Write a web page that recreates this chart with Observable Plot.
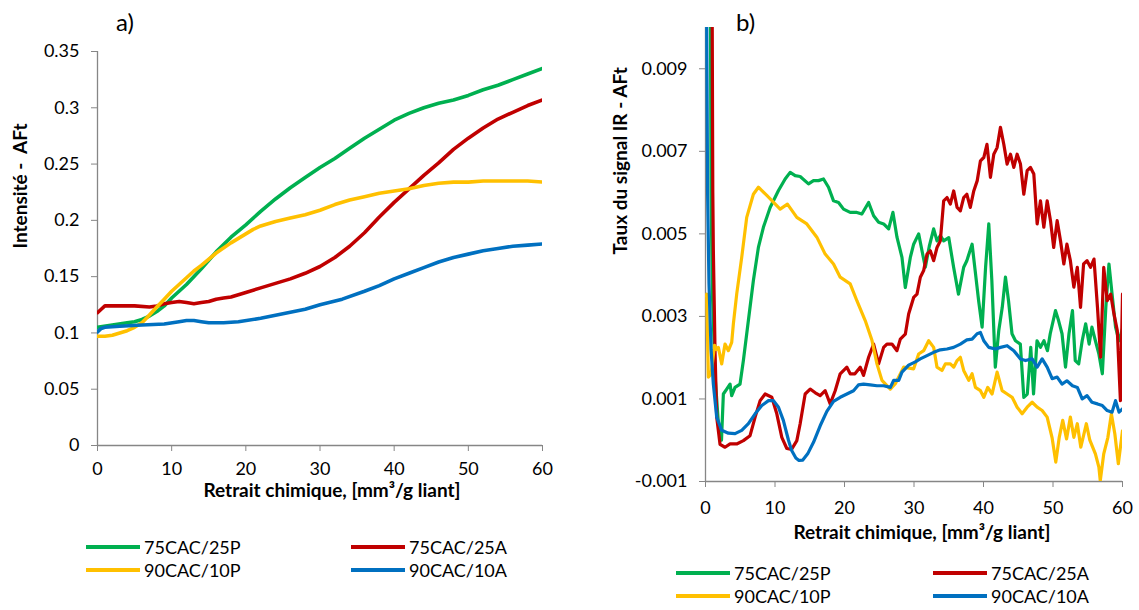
<!DOCTYPE html>
<html>
<head>
<meta charset="utf-8">
<script src="https://cdn.jsdelivr.net/npm/d3@7"></script>
<script src="https://cdn.jsdelivr.net/npm/@observablehq/plot@0.6"></script>
<style>
  html, body { margin: 0; padding: 0; background: #fff; }
  #root { position: relative; width: 1139px; height: 610px; overflow: hidden; font-family: Lato, "Noto Sans", sans-serif; color: #000; }
  .abs { position: absolute; }
  .panel-title { font-size: 24px; line-height: 24px; }
  .leg-line { position: absolute; height: 4px; }
  .leg-text { position: absolute; font-size: 18px; line-height: 20px; white-space: nowrap; }
</style>
</head>
<body>
<div id="root"></div>
<script>
// ---------- data ----------
const seriesNames = ["75CAC/25P", "75CAC/25A", "90CAC/10P", "90CAC/10A"];
const seriesColors = ["#00B050", "#C00000", "#FFC000", "#0070C0"];

const xTicks = [0, 10, 20, 30, 40, 50, 60];
const yTicksA = [0, 0.05, 0.1, 0.15, 0.2, 0.25, 0.3, 0.35];
const yTicksB = [-0.001, 0.001, 0.003, 0.005, 0.007, 0.009];

const titleA = "a)";
const titleB = "b)";
const xTitle = "Retrait chimique, [mm³/g liant]";
const yTitleA = "Intensité -  AFt";
const yTitleB = "Taux du signal IR - AFt";

// Panel a: intensity
const a_75P = [[0,0.105],[2,0.107],[4,0.109],[5,0.110],[6,0.112],[7,0.115],[8,0.119],[9,0.124],[10,0.131],[11,0.137],[12,0.143],[14,0.157],[16,0.172],[18,0.185],[20,0.196],[22,0.208],[24,0.219],[26,0.229],[28,0.238],[30,0.247],[32,0.255],[34,0.264],[36,0.273],[38,0.281],[40,0.289],[42,0.295],[44,0.300],[46,0.304],[48,0.307],[50,0.311],[52,0.316],[54,0.320],[56,0.325],[58,0.330],[60,0.335]];
const a_75A = [[0,0.118],[0.5,0.121],[1,0.124],[3,0.124],[5,0.124],[7,0.123],[8,0.124],[9,0.126],[10,0.127],[11,0.128],[12,0.127],[13,0.126],[14,0.127],[15,0.128],[16,0.130],[17,0.131],[18,0.132],[20,0.136],[22,0.140],[24,0.144],[26,0.148],[28,0.153],[30,0.159],[32,0.167],[34,0.177],[36,0.189],[38,0.203],[40,0.216],[42,0.228],[44,0.240],[46,0.251],[48,0.263],[50,0.273],[52,0.282],[54,0.290],[56,0.296],[58,0.302],[60,0.307]];
const a_90P = [[0,0.097],[1,0.097],[2,0.098],[3,0.100],[4,0.102],[5,0.105],[6,0.109],[7,0.116],[8,0.123],[9,0.130],[10,0.137],[11,0.143],[12,0.149],[13,0.155],[14,0.160],[16,0.171],[18,0.180],[20,0.188],[21,0.192],[22,0.195],[24,0.199],[26,0.202],[28,0.205],[30,0.209],[32,0.214],[34,0.218],[36,0.221],[38,0.224],[40,0.226],[42,0.228],[44,0.231],[46,0.233],[48,0.234],[50,0.234],[52,0.235],[54,0.235],[56,0.235],[58,0.235],[60,0.234]];
const a_90A = [[0,0.101],[0.5,0.104],[1,0.105],[3,0.106],[6,0.107],[9,0.108],[11,0.110],[12,0.111],[13,0.111],[14,0.110],[15,0.109],[17,0.109],[19,0.110],[22,0.113],[25,0.117],[28,0.121],[30,0.125],[33,0.130],[36,0.137],[38,0.142],[40,0.148],[42,0.153],[44,0.158],[46,0.163],[48,0.167],[50,0.170],[52,0.173],[54,0.175],[56,0.177],[58,0.178],[60,0.179]];

// Panel b: IR signal rate
const b_75P = [[0.7,0.011],[0.8,0.006],[1.0,0.0035],[1.4,0.0015],[1.9,0.0003],[2.3,0.0],[2.57,0.00112],[3.05,0.00124],[3.53,0.00136],[3.77,0.00108],[4.25,0.00128],[4.97,0.00136],[5.45,0.00193],[6.17,0.0029],[6.89,0.00387],[7.61,0.00467],[8.33,0.00516],[9.3,0.00564],[10.5,0.00605],[11.46,0.00633],[12.18,0.00649],[12.9,0.00641],[13.62,0.00639],[14.82,0.00621],[15.54,0.00629],[16.26,0.00629],[16.98,0.00633],[17.7,0.00613],[18.42,0.0058],[19.14,0.00576],[19.86,0.0056],[20.82,0.00552],[21.78,0.00552],[22.5,0.00548],[23.47,0.00576],[24.19,0.00544],[24.91,0.00528],[25.63,0.00524],[26.35,0.00512],[26.97,0.00552],[27.55,0.00492],[28.27,0.00443],[28.75,0.0037],[29.47,0.00443],[29.95,0.00475],[30.67,0.005],[31.15,0.00459],[31.63,0.00419],[32.2,0.0047],[32.83,0.00512],[33.31,0.00483],[33.79,0.00496],[34.27,0.00483],[35.0,0.00491],[35.7,0.00419],[36.4,0.00354],[37.15,0.00419],[37.6,0.00435],[38.36,0.00475],[38.8,0.00411],[39.3,0.00338],[39.8,0.00274],[40.3,0.00419],[40.76,0.00524],[41.2,0.00387],[41.7,0.00177],[42.2,0.00266],[42.7,0.00322],[43.16,0.00395],[43.6,0.00338],[44.1,0.00258],[44.6,0.00241],[45.3,0.00233],[45.8,0.00104],[46.3,0.00112],[46.8,0.00225],[47.2,0.00112],[47.7,0.00241],[48.2,0.00225],[48.7,0.00241],[49.2,0.00217],[49.6,0.00258],[50.36,0.00314],[50.8,0.0029],[51.3,0.00258],[51.8,0.00177],[52.3,0.00258],[52.8,0.00314],[53.2,0.00193],[53.7,0.00185],[54.2,0.00241],[54.7,0.00282],[55.2,0.00233],[55.6,0.00274],[56.1,0.00241],[56.6,0.00209],[57.1,0.00161],[57.6,0.00322],[58.05,0.00427],[58.5,0.00354],[59.0,0.00274],[59.5,0.00241],[60,0.0027]];
const b_75A = [[0.95,0.011],[1.05,0.006],[1.13,0.0046],[1.37,0.00217],[1.61,0.00056],[2.09,-0.0001],[2.81,-0.00017],[3.53,-0.00009],[4.49,-0.00009],[5.45,-0.00001],[6.41,0.00011],[7.14,0.00056],[7.86,0.00096],[8.58,0.00112],[9.54,0.00104],[10.26,0.00064],[10.98,0.00007],[11.7,-0.0002],[12.4,-0.00022],[13.14,-0.00001],[13.62,0.0004],[14.34,0.00112],[15.06,0.00124],[15.8,0.00115],[16.5,0.00108],[17.22,0.0012],[17.94,0.00088],[18.66,0.0012],[19.38,0.00161],[20.34,0.00177],[20.82,0.00161],[21.5,0.00161],[22.26,0.00177],[22.74,0.00157],[23.47,0.00201],[24.19,0.00233],[24.91,0.00185],[25.63,0.00225],[26.1,0.00233],[26.83,0.00233],[27.55,0.00217],[28.03,0.00245],[28.75,0.00257],[29.23,0.00306],[29.95,0.00346],[30.43,0.00354],[30.91,0.00395],[31.39,0.00411],[31.87,0.00451],[32.35,0.00459],[32.83,0.00435],[33.31,0.00467],[33.79,0.00483],[34.27,0.0058],[34.75,0.00588],[35.23,0.00572],[35.71,0.00604],[36.2,0.00564],[36.67,0.00556],[37.15,0.00588],[37.6,0.00596],[38.1,0.00564],[38.6,0.00604],[39.1,0.00629],[39.56,0.00677],[40.04,0.00685],[40.5,0.00717],[41.0,0.00637],[41.48,0.00693],[41.96,0.00709],[42.44,0.00758],[42.92,0.00717],[43.4,0.00669],[43.88,0.00693],[44.36,0.00661],[44.84,0.00693],[45.32,0.00669],[45.8,0.00596],[46.28,0.00653],[46.76,0.00661],[47.24,0.00645],[47.72,0.00524],[48.2,0.0058],[48.68,0.00516],[49.16,0.0058],[49.64,0.00532],[50.1,0.00467],[50.6,0.00532],[51.08,0.00483],[51.56,0.00427],[52.0,0.00475],[52.5,0.00435],[53.0,0.00371],[53.5,0.00419],[53.96,0.00322],[54.4,0.00427],[54.9,0.00435],[55.4,0.00419],[55.9,0.00439],[56.4,0.00322],[56.85,0.00201],[57.3,0.00419],[57.8,0.00338],[58.3,0.00354],[58.77,0.00306],[59.25,0.00266],[59.7,0.00096],[60,0.00354]];
const b_90P = [[0,0.0035],[0.17,0.00354],[0.41,0.00153],[0.8,0.0016],[1.3,0.0023],[1.6,0.0022],[1.85,0.00225],[2.33,0.00185],[2.81,0.00233],[3.29,0.00217],[3.77,0.00237],[4.01,0.00282],[4.49,0.00354],[5.21,0.00443],[5.93,0.0054],[6.89,0.00596],[7.61,0.00613],[8.82,0.00593],[10.74,0.0056],[11.79,0.00572],[13.14,0.0054],[14.58,0.00524],[16.02,0.00492],[17.22,0.00451],[18.42,0.00427],[19.38,0.00395],[20.82,0.00379],[21.78,0.00338],[22.98,0.0029],[23.95,0.00242],[24.67,0.00185],[25.39,0.00145],[26.59,0.00124],[27.31,0.00137],[28.51,0.00177],[29.95,0.00173],[30.67,0.00209],[31.39,0.00217],[32.11,0.00241],[32.83,0.00225],[33.31,0.00177],[34.03,0.00169],[34.51,0.00185],[35.23,0.00185],[35.71,0.00177],[36.2,0.00193],[36.67,0.00201],[37.15,0.00169],[37.88,0.00145],[38.36,0.00161],[38.84,0.00128],[39.56,0.0012],[40.04,0.00104],[40.61,0.00128],[41.24,0.00112],[41.96,0.00165],[42.68,0.0012],[43.4,0.00112],[44.12,0.00104],[44.84,0.0008],[45.56,0.00064],[46.28,0.0008],[47.0,0.00092],[47.72,0.0008],[48.44,0.00072],[49.16,0.00056],[49.88,0.00005],[50.4,-0.00053],[50.9,0.00007],[51.4,0.00048],[51.95,0.00003],[52.5,0.00056],[53.0,0.00007],[53.5,0.0004],[54.0,-0.00017],[54.8,0.0004],[55.3,0.0],[56.1,-0.00033],[56.6,-0.00065],[56.8,-0.00098],[57.3,-0.00033],[57.9,0.00007],[58.4,0.00064],[58.9,0.00015],[59.4,-0.00057],[60,0.00023]];
const b_90A = [[0.15,0.011],[0.3,0.006],[0.5,0.0038],[0.8,0.0022],[1.13,0.00136],[1.61,0.00056],[2.33,0.00024],[3.29,0.00017],[4.25,0.00016],[5.21,0.00024],[6.17,0.0004],[7.14,0.00064],[8.1,0.00084],[9.06,0.00096],[9.78,0.00096],[10.5,0.0008],[11.2,0.00048],[11.94,0.0],[12.4,-0.00025],[13.0,-0.00043],[13.45,-0.00049],[14.0,-0.00048],[14.7,-0.00033],[15.54,-0.00005],[16.5,0.00035],[17.46,0.0007],[18.42,0.00094],[19.38,0.00104],[20.34,0.00112],[21.3,0.0012],[22.0,0.00134],[22.74,0.00136],[23.7,0.00134],[24.67,0.00132],[25.63,0.00132],[26.6,0.00128],[27.07,0.00145],[27.8,0.00145],[28.27,0.00165],[29.23,0.00182],[30.19,0.0019],[30.9,0.00197],[31.87,0.00205],[32.83,0.00213],[33.79,0.00219],[34.75,0.00221],[35.7,0.00225],[36.67,0.00233],[37.6,0.00243],[38.36,0.00245],[39.08,0.00258],[39.56,0.00261],[40.04,0.00241],[40.76,0.00225],[41.72,0.00221],[42.44,0.00225],[43.4,0.00229],[44.36,0.00217],[45.32,0.00197],[46.04,0.00193],[47.0,0.00197],[47.72,0.00177],[48.44,0.00197],[49.16,0.00177],[49.88,0.00149],[50.6,0.00153],[51.3,0.00136],[52.0,0.00144],[52.8,0.00132],[53.5,0.00128],[54.2,0.001],[54.9,0.00108],[55.6,0.00092],[56.4,0.00088],[57.1,0.00084],[57.8,0.00072],[58.5,0.00068],[59.0,0.00096],[59.5,0.00068],[60,0.00076]];

// ---------- build ----------
const root = document.getElementById("root");
const AXIS = "#868686";
const FONT = "Lato, 'Noto Sans', sans-serif";

function lineMarks(seriesList, width, clip) {
  return seriesList.map((pts, i) =>
    Plot.line(pts, {x: d => d[0], y: d => d[1], stroke: seriesColors[i], strokeWidth: width, clip, strokeLinejoin: "round"})
  );
}

function panel(opts) {
  const svg = Plot.plot({
    width: opts.width, height: opts.height,
    marginLeft: opts.ml, marginRight: opts.mr, marginTop: opts.mt, marginBottom: opts.mb,
    style: {fontFamily: FONT, fontSize: "18px", color: "#000", background: "transparent", overflow: "visible"},
    x: {domain: [0, 60]},
    y: {domain: opts.yDomain},
    marks: [
      Plot.ruleX([0], {stroke: AXIS, strokeWidth: 1.3}),
      Plot.ruleY([opts.yDomain[0]], {stroke: AXIS, strokeWidth: 1.3}),
      Plot.axisX({ticks: xTicks, tickSize: 6, tickPadding: opts.xPad, stroke: AXIS, fill: "#000", label: null, tickFormat: d => String(d)}),
      Plot.axisY({ticks: opts.yTicks, tickSize: 6, tickPadding: 12, stroke: AXIS, fill: "#000", label: null, tickFormat: opts.fmt}),
      Plot.text([xTitle], {frameAnchor: "bottom", dy: opts.xtDy, dx: opts.xtDx, text: d => d, fontWeight: "bold", fontSize: 19}),
      Plot.text([opts.yTitle], {frameAnchor: "left", dx: opts.ytDx, rotate: -90, text: d => d, fontWeight: "bold", fontSize: 19}),
      ...lineMarks(opts.series, opts.sw, true)
    ]
  });
  svg.style.position = "absolute";
  svg.style.left = opts.left + "px";
  svg.style.top = "0px";
  root.appendChild(svg);
}

panel({
  left: 0, width: 565, height: 520, ml: 97, mr: 23, mt: 51, mb: 75,
  yDomain: [0, 0.35], yTicks: yTicksA, fmt: d => String(d),
  yTitle: yTitleA, xPad: 11, xtDy: 51, xtDx: 12, ytDx: -77,
  series: [a_75P, a_75A, a_90P, a_90A], sw: 3.6
});
panel({
  left: 580, width: 559, height: 560, ml: 125, mr: 17, mt: 27, mb: 79,
  yDomain: [-0.001, 0.010], yTicks: yTicksB, fmt: d => d.toFixed(3),
  yTitle: yTitleB, xPad: 14, xtDy: 57, xtDx: 8, ytDx: -85,
  series: [b_75P, b_75A, b_90P, b_90A], sw: 3.2
});

function addText(txt, x, y, cls) {
  const d = document.createElement("div");
  d.className = "abs " + cls;
  d.textContent = txt;
  d.style.left = x + "px";
  d.style.top = y + "px";
  root.appendChild(d);
  return d;
}
addText(titleA, 116, 10, "panel-title");
addText(titleB, 736, 10, "panel-title");

function legend(rows, cols, ys) {
  rows.forEach((row, r) => {
    row.forEach((si, c) => {
      const l = document.createElement("div");
      l.className = "leg-line";
      l.style.left = cols[c] + "px";
      l.style.width = "54px";
      l.style.top = (ys[r] - 2) + "px";
      l.style.background = seriesColors[si];
      root.appendChild(l);
      addText(seriesNames[si], cols[c] + 58, ys[r] - 10, "leg-text");
    });
  });
}
legend([[0, 1], [2, 3]], [86, 351], [547, 570]);
legend([[0, 1], [2, 3]], [676, 933], [573, 596]);
</script>
</body>
</html>
